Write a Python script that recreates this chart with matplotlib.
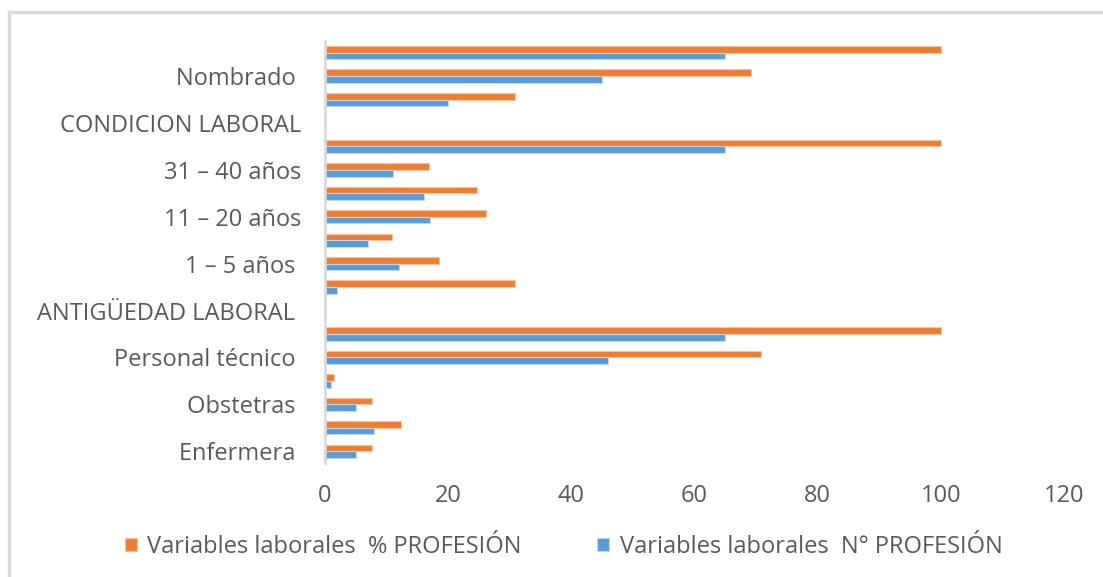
import matplotlib.pyplot as plt
import numpy as np
from matplotlib.lines import Line2D

# categories bottom to top; Excel only printed every other label
categorias = ['Enfermera ', '', 'Obstetras ', '', 'Personal técnico ', '',
              'ANTIGÜEDAD LABORAL ', '', '1 – 5 años ', '', '11 – 20 años', '',
              '31 – 40 años', '', 'CONDICION LABORAL', '', 'Nombrado ', '']
porcentaje = [7.7, 12.3, 7.7, 1.5, 70.8, 100, 0, 30.8, 18.5, 10.8, 26.2, 24.6,
              16.9, 100, 0, 30.8, 69.2, 100]
numero = [5, 8, 5, 1, 46, 65, 0, 2, 12, 7, 17, 16, 11, 65, 0, 20, 45, 65]
xticks = [0, 20, 40, 60, 80, 100, 120]

naranja = '#ED7D31'
azul = '#5B9BD5'
gris = '#595959'
fuente = 'Open Sans'

fig = plt.figure(figsize=(11.03, 5.77), dpi=100)
ax = fig.add_axes([0.2947, 0.1976, 0.6700, 0.7314])

y = np.arange(len(categorias))
h = 0.285
ax.barh(y + h / 2, porcentaje, height=h, color=naranja, edgecolor='#F6C4A3',
        linewidth=0.8, label='Variables laborales  % PROFESIÓN')
ax.barh(y - h / 2, numero, height=h, color=azul, edgecolor='#BDD7EE',
        linewidth=0.8, label='Variables laborales  N° PROFESIÓN')

ax.set_xlim(0, 120)
ax.set_ylim(-0.5, len(categorias) - 0.5)
ax.set_xticks(xticks)
ax.set_xticklabels([str(t) for t in xticks], family=fuente,
                   fontsize=17, color=gris)
ax.set_yticks(y)
ax.set_yticklabels(categorias, family=fuente, fontsize=17, color=gris)
ax.tick_params(axis='both', length=0)
ax.tick_params(axis='x', pad=15)
ax.tick_params(axis='y', pad=17)

for s in ['top', 'right', 'bottom']:
    ax.spines[s].set_visible(False)
ax.spines['left'].set_color('#D9D9D9')
ax.spines['left'].set_linewidth(2)

leg = fig.legend(loc='center', bbox_to_anchor=(0.511, 0.052), ncol=2,
                 frameon=False, handlelength=0.5, handleheight=0.5,
                 handletextpad=0.45, columnspacing=3.2,
                 prop={'family': fuente, 'size': 17})
for t in leg.get_texts():
    t.set_color(gris)

# chart area border (left and top edges only are visible)
bx, by = 9 / 1103, 1 - 12 / 577
fig.add_artist(Line2D([bx, bx], [0, by], transform=fig.transFigure,
                      color='#D9D9D9', linewidth=2.5))
fig.add_artist(Line2D([bx, 1], [by, by], transform=fig.transFigure,
                      color='#D9D9D9', linewidth=2.5))

fig.savefig('out.png', dpi=100)
